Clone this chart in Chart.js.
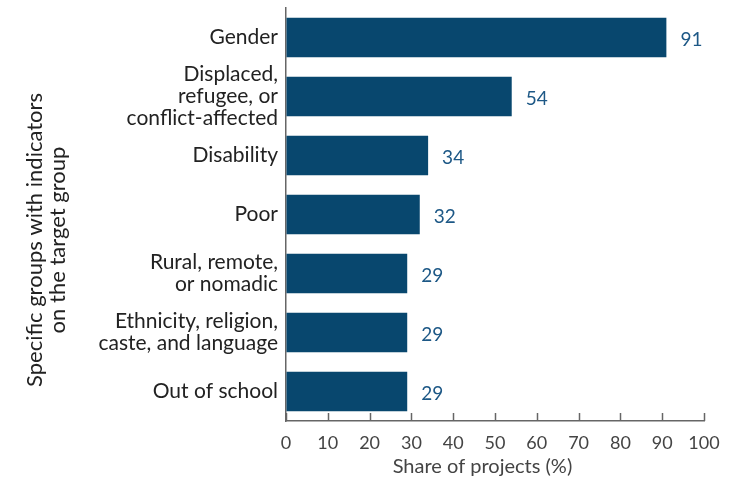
<!DOCTYPE html>
<html>
<head>
<meta charset="utf-8">
<script src="https://cdn.jsdelivr.net/npm/chart.js@4"></script>
<style>
  html, body { margin: 0; padding: 0; background: #fff; }
  #wrap { width: 738px; height: 479px; }
</style>
</head>
<body>
<div id="wrap"><canvas id="chart"></canvas></div>
<script>
const categories = [
    'Gender',
    ['Displaced,', 'refugee, or', 'conflict-affected'],
    'Disability',
    'Poor',
    ['Rural, remote,', 'or nomadic'],
    ['Ethnicity, religion,', 'caste, and language'],
    'Out of school'
];
const shares = [91, 54, 34, 32, 29, 29, 29];
const xTicks = [0, 10, 20, 30, 40, 50, 60, 70, 80, 90, 100];
const xTitle = 'Share of projects (%)';
const yTitle = ['Specific groups with indicators', 'on the target group'];

const FONT = 'Lato, "Open Sans", sans-serif';
const BAR_COLOR = '#08476e';

// value labels at the end of each bar
const valueLabels = {
    id: 'valueLabels',
    afterDatasetsDraw(chart) {
        const ctx = chart.ctx;
        const meta = chart.getDatasetMeta(0);
        ctx.save();
        ctx.fillStyle = '#1d5886';
        ctx.font = '19px ' + FONT;
        ctx.textBaseline = 'middle';
        meta.data.forEach((bar, i) => {
            ctx.fillText(shares[i], bar.x + 14, bar.y + 2);
        });
        ctx.restore();
    }
};

// tick marks pointing up into the plot, plus the axis titles where the original has them
const axisExtras = {
    id: 'axisExtras',
    afterDraw(chart) {
        const ctx = chart.ctx;
        const xs = chart.scales.x;
        const area = chart.chartArea;
        ctx.save();
        ctx.strokeStyle = '#666';
        ctx.lineWidth = 1.5;
        xTicks.forEach(v => {
            const px = Math.round(xs.getPixelForValue(v)) + 0.5;
            ctx.beginPath();
            ctx.moveTo(px, area.bottom - 8);
            ctx.lineTo(px, area.bottom);
            ctx.stroke();
        });

        ctx.textAlign = 'center';
        ctx.textBaseline = 'middle';
        ctx.fillStyle = '#444';
        ctx.font = '20px ' + FONT;
        ctx.fillText(xTitle, xs.getPixelForValue(47), 467);

        ctx.fillStyle = '#222';
        ctx.font = '22px ' + FONT;
        ctx.translate(0, 240);
        ctx.rotate(-Math.PI / 2);
        ctx.fillText(yTitle[0], 0, 35);
        ctx.fillText(yTitle[1], 0, 58);
        ctx.restore();
    }
};

new Chart(document.getElementById('chart').getContext('2d'), {
    type: 'bar',
    data: {
        labels: categories,
        datasets: [{
            data: shares,
            backgroundColor: BAR_COLOR,
            borderWidth: 0,
            categoryPercentage: 1,
            barPercentage: 0.67
        }]
    },
    plugins: [valueLabels, axisExtras],
    options: {
        indexAxis: 'y',
        responsive: true,
        maintainAspectRatio: false,
        animation: false,
        layout: { padding: { top: 8, right: 34, left: 0, bottom: 0 } },
        scales: {
            x: {
                min: 0,
                max: 100,
                afterBuildTicks: scale => { scale.ticks = xTicks.map(v => ({ value: v })); },
                afterFit: scale => { scale.height = 58; },
                grid: { drawOnChartArea: false, drawTicks: false },
                border: { color: '#666', width: 1.5 },
                ticks: {
                    autoSkip: false,
                    maxRotation: 0,
                    padding: 11,
                    color: '#444',
                    font: { family: FONT, size: 18 }
                },
                title: { display: false }
            },
            y: {
                afterFit: scale => {
                    scale.width = 286;
                    scale.paddingTop = 0;
                    scale.paddingBottom = 0;
                },
                grid: { display: false, drawTicks: false },
                border: { color: '#666', width: 1.5 },
                ticks: {
                    autoSkip: false,
                    padding: 8,
                    color: '#222',
                    font: { family: FONT, size: 21, lineHeight: 1.05 }
                },
                title: { display: false }
            }
        },
        plugins: {
            legend: { display: false },
            tooltip: { enabled: false }
        }
    }
});
</script>
</body>
</html>
